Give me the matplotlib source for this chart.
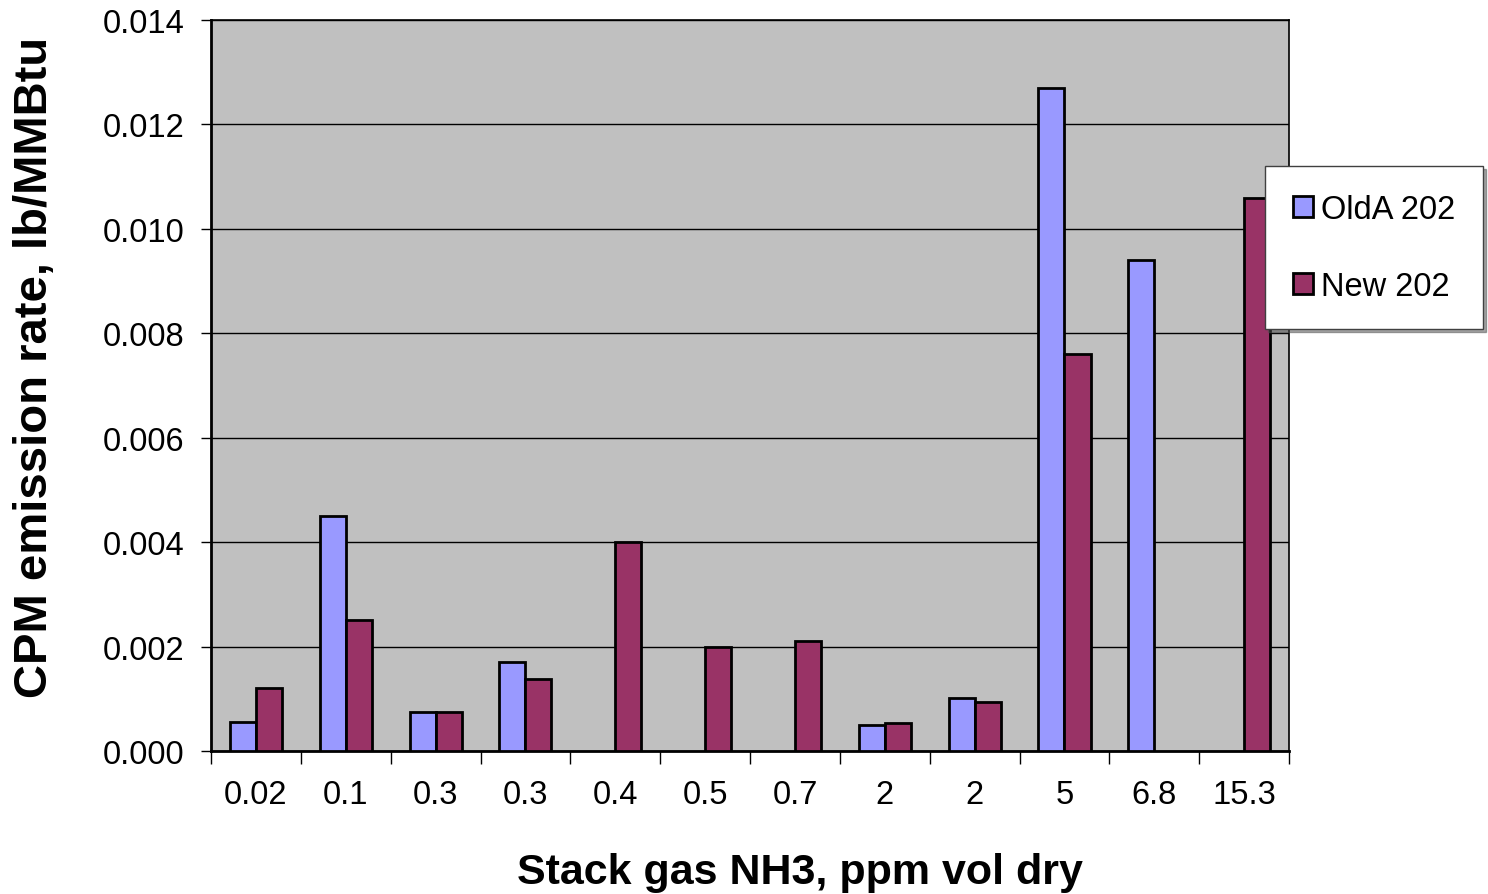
import numpy as np
import matplotlib.pyplot as plt
from matplotlib.ticker import FormatStrFormatter, MultipleLocator

plt.rcParams['font.family'] = ['Liberation Sans', 'DejaVu Sans']

# stack gas NH3 (ppm vol dry) for each test
nh3_labels = ['0.02', '0.1', '0.3', '0.3', '0.4', '0.5', '0.7', '2', '2', '5', '6.8', '15.3']
# CPM emission rate, lb/MMBtu (nan = no run)
olda_202 = [0.00055, 0.0045, 0.00075, 0.0017, np.nan, np.nan, np.nan, 0.0005, 0.00101, 0.0127, 0.0094, np.nan]
new_202 = [0.0012, 0.0025, 0.00075, 0.00138, 0.0040, 0.0020, 0.0021, 0.00053, 0.00093, 0.0076, np.nan, 0.0106]

fig = plt.figure(figsize=(14.88, 8.95), dpi=100)
ax = fig.add_axes([0.1418, 0.1598, 0.7245, 0.8167])
ax.set_facecolor('#C0C0C0')

x = np.arange(len(nh3_labels))
w = 0.29
ax.bar(x - w / 2, olda_202, w, color='#9999FF', edgecolor='black', linewidth=2, label='OldA 202', zorder=3)
ax.bar(x + w / 2, new_202, w, color='#993366', edgecolor='black', linewidth=2, label='New 202', zorder=3)

ax.set_xlim(-0.5, len(nh3_labels) - 0.5)
ax.set_ylim(0, 0.014)
ax.yaxis.set_major_locator(MultipleLocator(0.002))
ax.yaxis.set_major_formatter(FormatStrFormatter('%.3f'))
ax.grid(axis='y', color='black', linewidth=1, zorder=1)

# category labels centred, ticks on group boundaries
ax.set_xticks(np.arange(-0.5, len(nh3_labels)))
ax.set_xticklabels([])
ax.set_xticks(x, minor=True)
ax.set_xticklabels(nh3_labels, minor=True)
ax.tick_params(axis='x', which='major', length=9, width=1, direction='out')
ax.tick_params(axis='x', which='minor', length=0, pad=20, labelsize=23.5)
ax.tick_params(axis='y', length=7, width=1, labelsize=23.5, pad=12)

for side in ['left', 'bottom']:
    ax.spines[side].set_linewidth(2)
for side in ['top', 'right']:
    ax.spines[side].set_linewidth(1.2)

ax.set_xlabel('Stack gas NH3, ppm vol dry', fontsize=31, fontweight='bold', va='baseline')
ax.xaxis.set_label_coords(0.546, -0.18)
ax.set_ylabel('CPM emission rate, lb/MMBtu', fontsize=34, fontweight='bold')
ax.yaxis.set_label_coords(-0.143, 0.526)

leg = ax.legend(loc='upper left', bbox_to_anchor=(0.978, 0.8), fontsize=23.5, frameon=True,
                fancybox=False, shadow=True, borderpad=0.85, labelspacing=1.4,
                handlelength=0.6, handleheight=0.6, handletextpad=0.25, borderaxespad=0)
leg.get_frame().set_edgecolor('#404040')
leg.get_frame().set_linewidth(1)
for h in leg.legend_handles:
    h.set_linewidth(2)

fig.savefig('out.png', dpi=100)
